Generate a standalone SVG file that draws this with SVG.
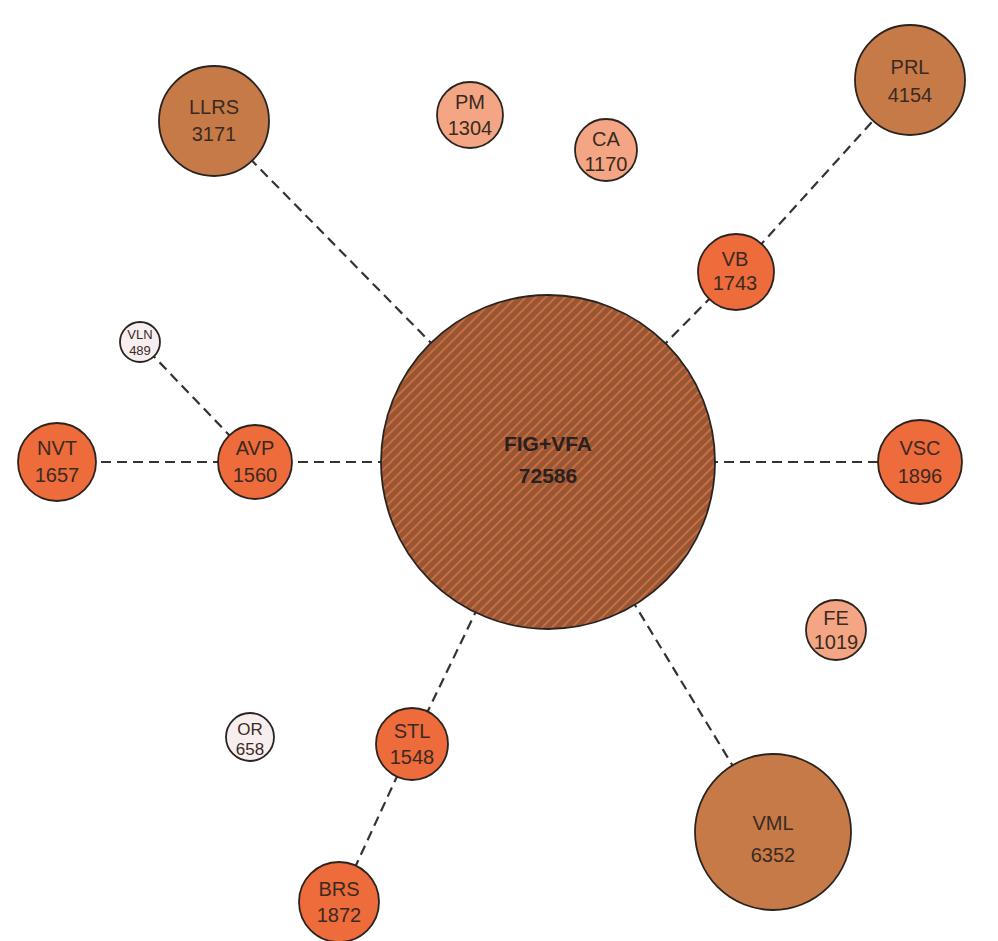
<svg xmlns="http://www.w3.org/2000/svg" width="998" height="941" viewBox="0 0 998 941">
<defs>
<pattern id="hatch" patternUnits="userSpaceOnUse" width="7" height="7" patternTransform="rotate(45)">
<rect width="7" height="7" fill="#985634"/>
<line x1="1" y1="0" x2="1" y2="7" stroke="#d47443" stroke-width="1.6"/>
</pattern>
</defs>
<style>
.e{stroke:#333;stroke-width:2.2;stroke-dasharray:10 6;fill:none}
circle{stroke:#2a2420;stroke-width:1.8}
.big{fill:#c67a47}
.mid{fill:#ee6b3b}
.lt{fill:#f4a684}
.wh{fill:#f7efef}
text{font-family:"Liberation Sans",Arial,sans-serif;font-size:20px;fill:#3a2a22;text-anchor:middle}
.b{font-weight:bold;font-size:21px;fill:#2a2020}
</style>
<rect width="998" height="941" fill="#fff"/>
<g id="connectors">
<line class="e" x1="548" y1="462" x2="214" y2="122"/>
<line class="e" x1="548" y1="462" x2="736" y2="272"/>
<line class="e" x1="736" y1="272" x2="910" y2="80"/>
<line class="e" x1="548" y1="462" x2="920" y2="462"/>
<line class="e" x1="548" y1="462" x2="255" y2="462"/>
<line class="e" x1="255" y1="462" x2="57" y2="462"/>
<line class="e" x1="255" y1="462" x2="140" y2="342"/>
<line class="e" x1="548" y1="462" x2="412" y2="744"/>
<line class="e" x1="412" y1="744" x2="339" y2="902"/>
<line class="e" x1="548" y1="462" x2="773" y2="832"/>
</g>
<g id="FIGVFA"><circle cx="548" cy="462" r="167" fill="url(#hatch)"/><text class="b" x="548" y="451">FIG+VFA</text><text class="b" x="548" y="483">72586</text></g>
<g id="LLRS"><circle class="big" cx="214" cy="121" r="55"/><text x="214" y="114">LLRS</text><text x="214" y="141">3171</text></g>
<g id="PRL"><circle class="big" cx="910" cy="80" r="55"/><text x="910" y="74">PRL</text><text x="910" y="102">4154</text></g>
<g id="VML"><circle class="big" cx="773" cy="832" r="78"/><text x="773" y="830">VML</text><text x="773" y="862">6352</text></g>
<g id="PM"><circle class="lt" cx="470" cy="115" r="33"/><text x="470" y="109">PM</text><text x="470" y="135">1304</text></g>
<g id="CA"><circle class="lt" cx="606" cy="150" r="31"/><text x="606" y="146">CA</text><text x="606" y="171">1170</text></g>
<g id="FE"><circle class="lt" cx="836" cy="630" r="30"/><text x="836" y="625">FE</text><text x="836" y="649">1019</text></g>
<g id="VB"><circle class="mid" cx="736" cy="272" r="38"/><text x="735" y="266">VB</text><text x="735" y="290">1743</text></g>
<g id="VSC"><circle class="mid" cx="920" cy="462" r="42"/><text x="920" y="455">VSC</text><text x="920" y="483">1896</text></g>
<g id="AVP"><circle class="mid" cx="255" cy="462" r="37"/><text x="255" y="455">AVP</text><text x="255" y="482">1560</text></g>
<g id="NVT"><circle class="mid" cx="57" cy="462" r="39"/><text x="57" y="455">NVT</text><text x="57" y="482">1657</text></g>
<g id="STL"><circle class="mid" cx="412" cy="744" r="36"/><text x="412" y="738">STL</text><text x="412" y="764">1548</text></g>
<g id="BRS"><circle class="mid" cx="339" cy="902" r="40"/><text x="339" y="896">BRS</text><text x="339" y="922">1872</text></g>
<g id="VLN"><circle class="wh" cx="140" cy="342" r="20"/><text x="140" y="339" style="font-size:13px">VLN</text><text x="140" y="355" style="font-size:13px">489</text></g>
<g id="OR"><circle class="wh" cx="250" cy="737" r="24"/><text x="250" y="735" style="font-size:17px">OR</text><text x="250" y="755" style="font-size:17px">658</text></g>
</svg>
